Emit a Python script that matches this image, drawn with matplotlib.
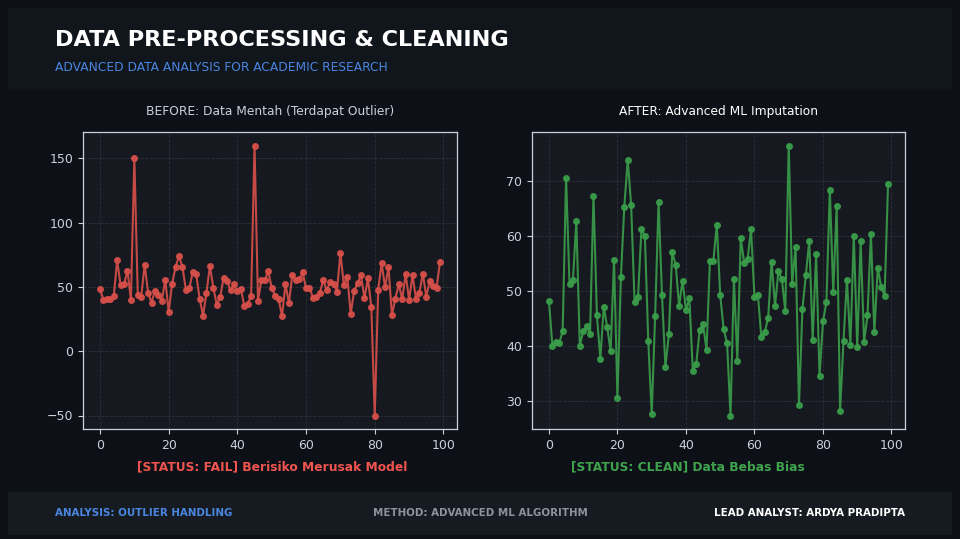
import numpy as np
import matplotlib
matplotlib.use("Agg")
import matplotlib.pyplot as plt
from matplotlib.patches import Rectangle

# values (100 samples)
clean_values = [
    48.2, 40.1, 40.7, 40.6, 42.7, 70.6, 51.4, 52.0, 62.7, 40.1,
    42.7, 43.6, 42.2, 67.4, 45.6, 37.7, 47.2, 43.5, 39.1, 55.7,
    30.6, 52.6, 65.4, 73.9, 65.6, 48.0, 48.9, 61.3, 60.1, 40.9,
    27.7, 45.5, 66.3, 49.3, 36.2, 42.2, 57.1, 54.8, 47.3, 51.9,
    46.6, 48.7, 35.5, 36.8, 42.9, 44.0, 39.4, 55.5, 55.5, 62.1,
    49.3, 43.1, 40.6, 27.4, 52.2, 37.4, 59.6, 55.2, 55.8, 61.3,
    48.9, 49.4, 41.7, 42.5, 45.2, 55.4, 47.4, 53.6, 52.2, 46.4,
    76.5, 51.3, 58.1, 29.3, 46.8, 52.9, 59.2, 41.1, 56.7, 34.6,
    44.5, 48.0, 68.4, 49.9, 65.5, 28.3, 41.0, 52.1, 40.3, 60.1,
    39.9, 59.1, 40.8, 45.6, 60.4, 42.5, 54.3, 50.7, 49.2, 69.5,
]
outlier_index = [10, 45, 80]
outlier_value = [150, 160, -50]

raw_values = list(clean_values)
for i, v in zip(outlier_index, outlier_value):
    raw_values[i] = v

BG = "#0d1117"
HEADER = "#11151c"
FOOTER = "#161b22"
AXBG = "#161a20"
RED = "#d9504a"
GREEN = "#3a9e4a"
BLUE = "#4a86e0"
LIGHT = "#c9d1d9"

fig = plt.figure(figsize=(9.6, 5.39), dpi=100, facecolor=BG)

# header / footer bands
fig.patches.append(Rectangle((8/960, 1-90/539), 944/960, 82/539,
                             transform=fig.transFigure, facecolor=HEADER,
                             edgecolor="none", zorder=0))
fig.patches.append(Rectangle((8/960, 1-535/539), 944/960, 43/539,
                             transform=fig.transFigure, facecolor=FOOTER,
                             edgecolor="none", zorder=0))

fig.text(55/960, 1-40/539, "DATA PRE-PROCESSING & CLEANING", color="white",
         fontsize=16.1, fontweight="bold", va="center", ha="left")
fig.text(55/960, 1-67/539, "ADVANCED DATA ANALYSIS FOR ACADEMIC RESEARCH",
         color=BLUE, fontsize=8.8, va="center", ha="left")

x = np.arange(len(clean_values))

ax1 = fig.add_axes([83/960, 1-429/539, 374/960, 297/539])
ax2 = fig.add_axes([532/960, 1-429/539, 373/960, 297/539])

for ax in (ax1, ax2):
    ax.set_facecolor(AXBG)
    ax.grid(True, linestyle="--", color="#3a404a", linewidth=0.6, alpha=0.6)
    ax.set_axisbelow(True)
    for s in ax.spines.values():
        s.set_color(LIGHT)
        s.set_linewidth(0.9)
    ax.tick_params(colors=LIGHT, labelsize=9, length=3.5)

ax1.plot(x, raw_values, color=RED, marker="o", markersize=4, linewidth=1.5, alpha=0.9)
ax2.plot(x, clean_values, color=GREEN, marker="o", markersize=4, linewidth=1.5, alpha=0.9)

ax1.set_title("BEFORE: Data Mentah (Terdapat Outlier)", color=LIGHT,
              fontsize=8.8, pad=12)
ax2.set_title("AFTER: Advanced ML Imputation", color="white",
              fontsize=8.8, pad=12)

fig.text(272/960, 1-467/539, "[STATUS: FAIL] Berisiko Merusak Model",
         color="#f0544f", fontsize=8.8, fontweight="bold", ha="center", va="center")
fig.text(688/960, 1-467/539, "[STATUS: CLEAN] Data Bebas Bias",
         color="#3fa34d", fontsize=8.8, fontweight="bold", ha="center", va="center")

fig.text(55/960, 1-513/539, "ANALYSIS: OUTLIER HANDLING", color=BLUE,
         fontsize=7.4, fontweight="bold", ha="left", va="center")
fig.text(480/960, 1-513/539, "METHOD: ADVANCED ML ALGORITHM", color="#8b949e",
         fontsize=7.4, fontweight="bold", ha="center", va="center")
fig.text(905/960, 1-513/539, "LEAD ANALYST: ARDYA PRADIPTA", color="white",
         fontsize=7.4, fontweight="bold", ha="right", va="center")

fig.savefig("out.png", dpi=100, facecolor=BG)
